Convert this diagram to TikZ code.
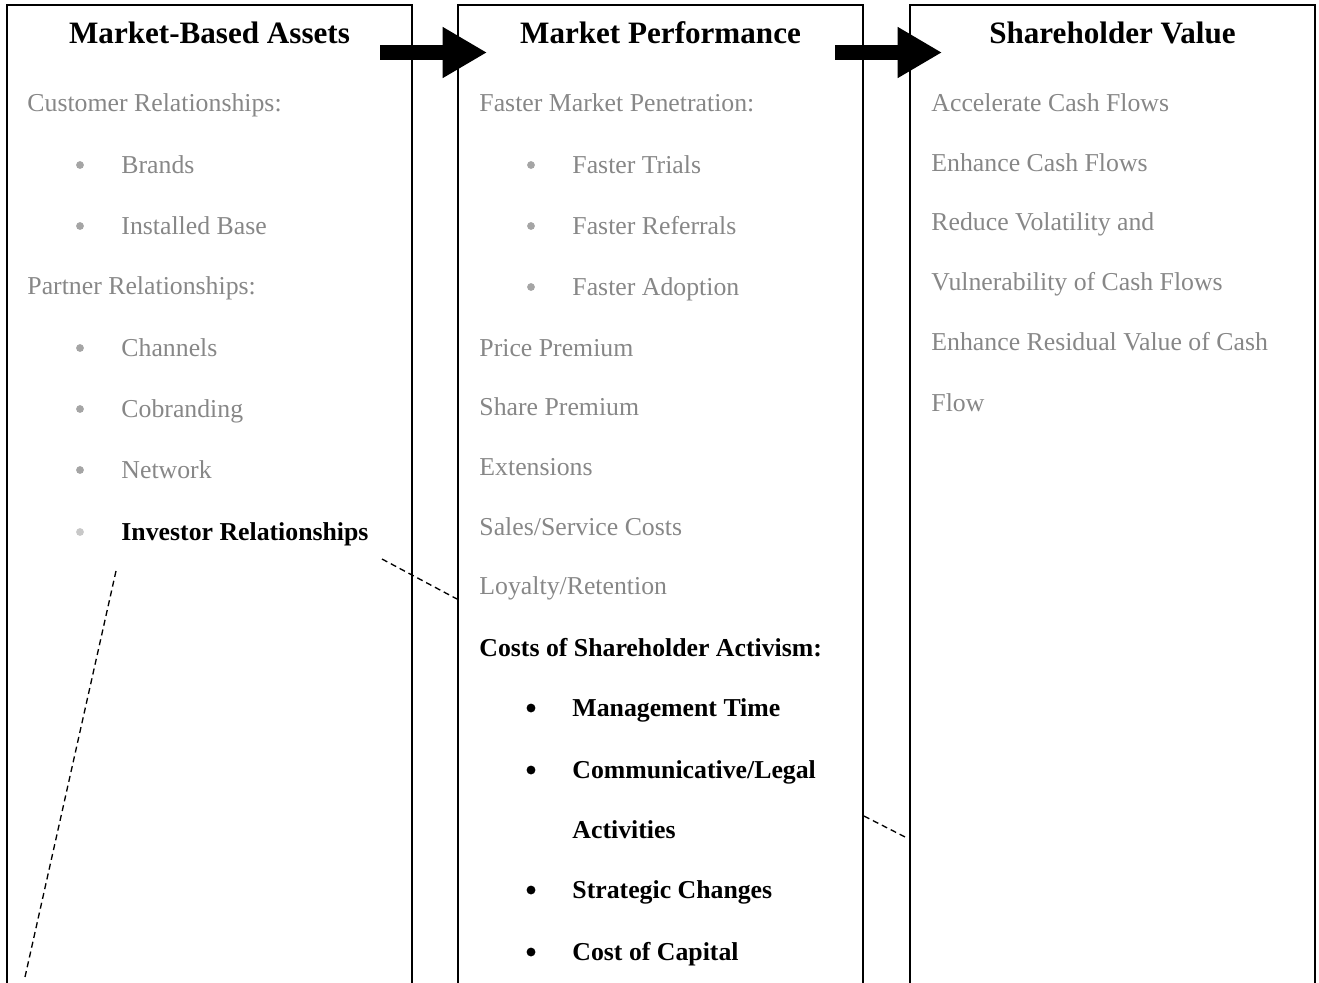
\documentclass[tikz,border=0pt]{standalone}
\usepackage{fontspec}
\setmainfont{Liberation Serif}
\usetikzlibrary{arrows.meta,positioning}
\definecolor{softgray}{RGB}{135,135,135}
\definecolor{dotgray}{RGB}{165,165,165}
\definecolor{palegray}{RGB}{200,200,200}

\begin{document}
\begin{tikzpicture}[
  x=0.45pt, y=-0.45pt,
  every node/.style={inner sep=0pt, anchor=base west},
  panel/.style={draw=black, line width=0.9pt},
  head/.style={anchor=base, font=\fontsize{14}{16}\selectfont\bfseries},
  entry/.style={text=softgray, font=\fontsize{11.6}{14}\selectfont},
  strong/.style={text=black, font=\fontsize{11.6}{14}\selectfont\bfseries},
  dot/.style={anchor=center, circle, fill=dotgray, minimum size=3.5pt},
  bigdot/.style={dot, fill=black, minimum size=4pt},
  flow/.style={line width=6.5pt, -{Triangle[length=20pt,width=21.6pt]}},
  link/.style={line width=0.6pt, dash pattern=on 2.7pt off 1.8pt}
]
\useasboundingbox (0,0) rectangle (1319,982);

% three columns, open at the bottom
\draw[panel] (7,1000) |- (412,5) -- (412,1000);
\draw[panel] (458,1000) |- (863,5) -- (863,1000);
\draw[panel] (910,1000) |- (1315,5) -- (1315,1000);

\node[head] (assets) at (209.5,43) {Market-Based Assets};
\node[head] (perf) at (660.5,43) {Market Performance};
\node[head] (value) at (1112.5,43) {Shareholder Value};

% left column
\node[entry] (cust) at (27,111) {Customer Relationships:};
\node[dot] (b1) at (80,165) {};
\node[entry] (brands) at (121,173) {Brands};
\node[dot] (b2) at (80,226) {};
\node[entry] (base) at (121,234) {Installed Base};
\node[entry] (partner) at (27,294) {Partner Relationships:};
\node[dot] (b3) at (80,348) {};
\node[entry] (chan) at (121,356) {Channels};
\node[dot] (b4) at (80,409) {};
\node[entry] (cobr) at (121,417) {Cobranding};
\node[dot] (b5) at (80,470) {};
\node[entry] (net) at (121,478) {Network};
\node[dot, fill=palegray] (b6) at (80,532) {};
\node[strong] (inv) at (121,540) {Investor Relationships};

% middle column
\node[entry] (pen) at (479,111) {Faster Market Penetration:};
\node[dot] (m1) at (531,165) {};
\node[entry] (trials) at (572,173) {Faster Trials};
\node[dot] (m2) at (531,226) {};
\node[entry] (refs) at (572,234) {Faster Referrals};
\node[dot] (m3) at (531,287) {};
\node[entry] (adopt) at (572,295) {Faster Adoption};
\node[entry] (price) at (479,356) {Price Premium};
\node[entry] (share) at (479,415) {Share Premium};
\node[entry] (ext) at (479,475) {Extensions};
\node[entry] (sales) at (479,535) {Sales/Service Costs};
\node[entry] (loyal) at (479,594) {Loyalty/Retention};
\node[strong] (costs) at (479,656) {Costs of Shareholder Activism:};
\node[bigdot] (c1) at (531,708) {};
\node[strong] (mgmt) at (572,716) {Management Time};
\node[bigdot] (c2) at (531,770) {};
\node[strong] (comm) at (572,778) {Communicative/Legal};
\node[strong] (act) at (572,838) {Activities};
\node[bigdot] (c3) at (531,890) {};
\node[strong] (strat) at (572,898) {Strategic Changes};
\node[bigdot] (c4) at (531,952) {};
\node[strong] (capital) at (572,960) {Cost of Capital};

% right column
\node[entry] (accel) at (931,111) {Accelerate Cash Flows};
\node[entry] (enh) at (931,171) {Enhance Cash Flows};
\node[entry] (vol) at (931,230) {Reduce Volatility and};
\node[entry] (vuln) at (931,290) {Vulnerability of Cash Flows};
\node[entry] (resid) at (931,350) {Enhance Residual Value of Cash};
\node[entry] (flow) at (931,411) {Flow};

% block arrows between columns
\coordinate (a1s) at (380,52.5);
\coordinate (a1e) at (487,52.5);
\coordinate (a2s) at (835,52.5);
\coordinate (a2e) at (942,52.5);
\draw[flow] (a1s) -- (a1e);
\draw[flow] (a2s) -- (a2e);

% dashed guide lines
\coordinate (d1s) at (382,559);
\coordinate (d1e) at (457,599);
\coordinate (d2s) at (864,816);
\coordinate (d2e) at (907,838);
\coordinate (d3s) at (116,571);
\coordinate (d3e) at (25,977);
\draw[link] (d1s) -- (d1e);
\draw[link] (d2s) -- (d2e);
\draw[link] (d3s) -- (d3e);
\end{tikzpicture}
\end{document}
